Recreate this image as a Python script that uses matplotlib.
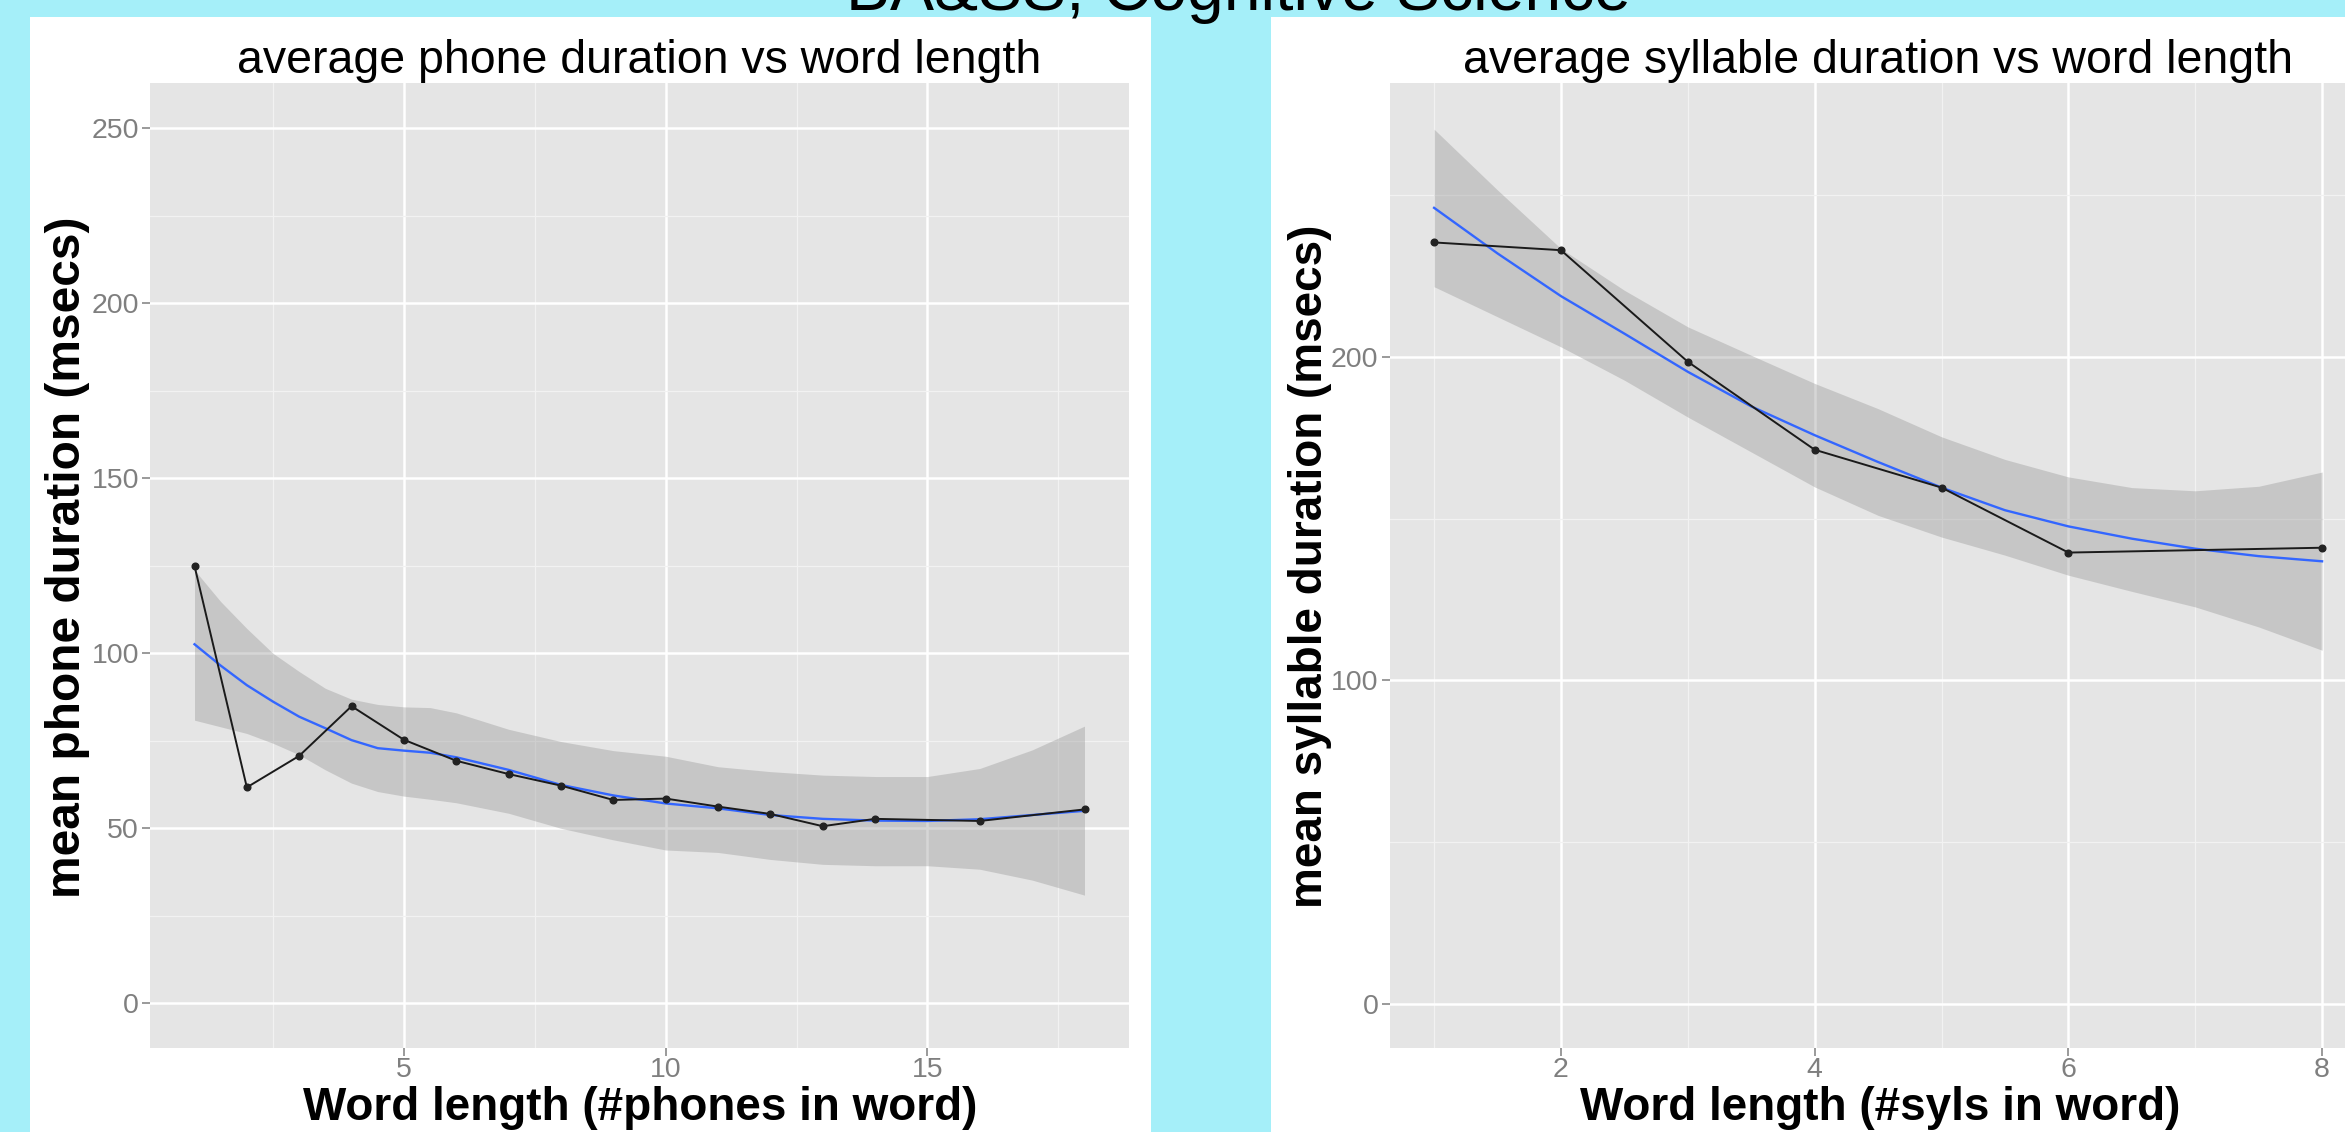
import matplotlib
matplotlib.use('Agg')
import matplotlib.pyplot as plt
from matplotlib.patches import Rectangle
from matplotlib.ticker import MultipleLocator

plt.rcParams['font.family'] = ['Liberation Sans', 'DejaVu Sans']

# mean phone duration per word length (in phones)
phones_x = [1, 2, 3, 4, 5, 6, 7, 8, 9, 10, 11, 12, 13, 14, 16, 18]
phone_dur = [125.0, 61.7, 70.7, 84.9, 75.3, 69.3, 65.5, 62.2, 58.1, 58.5, 56.2, 54.1, 50.6, 52.7, 52.1, 55.4]

# loess smooth + confidence band
phone_fit_x = [1, 1.5, 2, 2.5, 3, 3.5, 4, 4.5, 5, 5.5, 6, 7, 8, 9, 10, 11, 12, 13, 14, 15, 16, 17, 18]
phone_fit = [102.6, 96.5, 90.9, 86.2, 81.9, 78.6, 75.2, 72.9, 72.2, 71.6, 70.3, 66.7, 62.4, 59.4, 57.1,
             55.7, 53.8, 52.7, 52.2, 52.1, 52.6, 53.8, 55.0]
phone_hi = [123.8, 114.8, 107.1, 100.0, 94.8, 90.0, 86.9, 85.4, 84.7, 84.5, 83.0, 78.3, 74.8, 72.2, 70.6,
            67.6, 66.2, 65.2, 64.8, 64.8, 67.1, 72.4, 79.2]
phone_lo = [80.9, 79.0, 77.1, 74.3, 71.0, 66.7, 62.9, 60.5, 59.2, 58.3, 57.3, 54.3, 50.0, 46.7, 43.8,
            43.1, 41.1, 39.7, 39.3, 39.3, 38.3, 35.2, 30.9]

# mean syllable duration per word length (in syllables)
syl_x = [1, 2, 3, 4, 5, 6, 8]
syl_dur = [235.4, 233.0, 198.5, 171.3, 159.6, 139.5, 141.0]

syl_fit_x = [1, 1.5, 2, 2.5, 3, 3.5, 4, 4.5, 5, 5.5, 6, 6.5, 7, 7.5, 8]
syl_fit = [246.1, 232.0, 218.8, 207.2, 195.4, 184.7, 175.8, 167.5, 159.6, 152.6, 147.6, 143.8, 140.7, 138.4, 136.8]
syl_hi = [270.4, 251.6, 233.5, 220.6, 209.3, 200.5, 191.8, 184.0, 175.3, 168.3, 162.9, 159.6, 158.6, 160.0, 164.4]
syl_lo = [221.7, 212.4, 203.1, 192.8, 181.4, 170.6, 159.8, 151.0, 144.3, 138.7, 132.5, 127.5, 122.7, 116.5, 109.3]

W, H = 2345, 1132
cyan = '#A5EFF9'
fig = plt.figure(figsize=(W / 100, H / 100), dpi=100, facecolor=cyan)

# white slide panels behind each plot
for x0, x1 in [(30, 1151), (1271, W)]:
    fig.add_artist(Rectangle((x0 / W, 0), (x1 - x0) / W, (H - 17) / H,
                             transform=fig.transFigure, facecolor='white',
                             edgecolor='none', zorder=-1))

# slide heading, mostly above the visible area as in the screenshot
fig.text(1238 / W, 1 - 10 / H, 'BA&SS, Cognitive Science', ha='center', va='baseline',
         fontsize=47.5, color='black')

ax_h = (1047.7 - 83) / H
ax_b = (H - 1047.7) / H
ax1 = fig.add_axes([150 / W, ax_b, 979 / W, ax_h])
ax2 = fig.add_axes([1389.7 / W, ax_b, 976.8 / W, ax_h])


def style(ax):
    ax.set_facecolor('#E5E5E5')
    for s in ax.spines.values():
        s.set_visible(False)
    ax.set_axisbelow(True)
    ax.grid(which='major', color='white', linewidth=1.8)
    ax.grid(which='minor', color='#F2F2F2', linewidth=0.9)
    ax.tick_params(which='major', length=6, width=1.1, color='#7F7F7F',
                   labelcolor='#7F7F7F', labelsize=20.5)
    ax.tick_params(axis='x', which='major', pad=0.5)
    ax.tick_params(axis='y', which='major', pad=2)
    ax.tick_params(which='minor', length=0)


def draw(ax, x, y, fx, fy, lo, hi):
    ax.fill_between(fx, lo, hi, color='#999999', alpha=0.4, linewidth=0, zorder=2)
    ax.plot(fx, fy, color='#3366FF', linewidth=1.7, zorder=3)
    ax.plot(x, y, color='#1A1A1A', linewidth=1.4, marker='o', markersize=4.8,
            markerfacecolor='#222222', markeredgecolor='#222222', zorder=4)


style(ax1)
draw(ax1, phones_x, phone_dur, phone_fit_x, phone_fit, phone_lo, phone_hi)
ax1.set_xlim(0.15, 18.85)
ax1.set_ylim(-12.7, 263)
ax1.xaxis.set_major_locator(MultipleLocator(5))
ax1.xaxis.set_minor_locator(MultipleLocator(2.5))
ax1.yaxis.set_major_locator(MultipleLocator(50))
ax1.yaxis.set_minor_locator(MultipleLocator(25))
ax1.set_title('average phone duration vs word length', fontsize=33.5, pad=3)

style(ax2)
draw(ax2, syl_x, syl_dur, syl_fit_x, syl_fit, syl_lo, syl_hi)
ax2.set_xlim(0.65, 8.35)
ax2.set_ylim(-13.6, 284.7)
ax2.xaxis.set_major_locator(MultipleLocator(2))
ax2.xaxis.set_minor_locator(MultipleLocator(1))
ax2.yaxis.set_major_locator(MultipleLocator(100))
ax2.yaxis.set_minor_locator(MultipleLocator(50))
ax2.set_title('average syllable duration vs word length', fontsize=33.5, pad=3)

# axis labels
lab = dict(fontweight='bold', color='black')
fig.text(640 / W, 1 - 1120 / H, 'Word length (#phones in word)', ha='center', va='baseline', fontsize=33, **lab)
fig.text(1880 / W, 1 - 1120 / H, 'Word length (#syls in word)', ha='center', va='baseline', fontsize=33, **lab)
fig.text(68 / W, 1 - 557 / H, 'mean phone duration (msecs)', rotation=90, ha='center', va='center',
         fontsize=34.5, **lab)
fig.text(1310 / W, 1 - 566 / H, 'mean syllable duration (msecs)', rotation=90, ha='center', va='center',
         fontsize=33, **lab)

fig.savefig('out.png', dpi=100, facecolor=fig.get_facecolor())
